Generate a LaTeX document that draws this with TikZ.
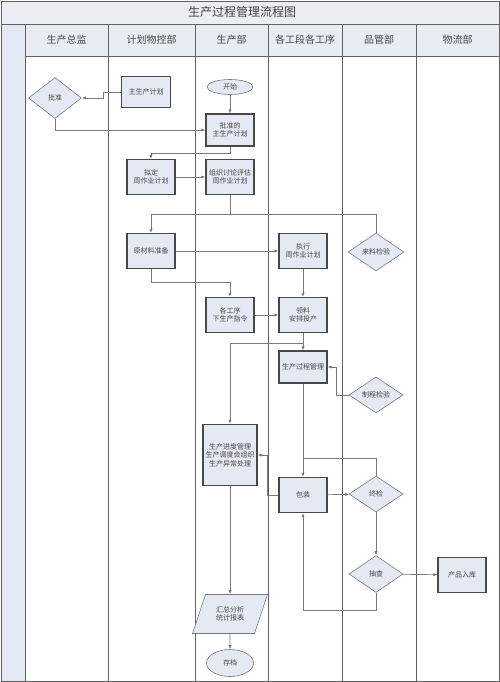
\documentclass[tikz,border=0pt]{standalone}
\usepackage{fontspec}
\newfontfamily\cjk{Noto Sans CJK SC}
\usetikzlibrary{shapes.geometric,arrows.meta}
\definecolor{titlefill}{RGB}{236,238,244}
\definecolor{headfill}{RGB}{232,236,243}
\definecolor{lanefill}{RGB}{226,233,245}
\definecolor{boxfill}{RGB}{229,233,243}
\definecolor{boxline}{RGB}{72,72,72}
\definecolor{flowgray}{RGB}{118,122,126}
\definecolor{laneline}{RGB}{96,96,96}
\tikzset{
  boxtext/.style={font=\cjk\fontsize{7}{8.6}\selectfont,text=black!72,align=center},
  procbox/.style={boxtext,rectangle,draw=boxline,line width=1.3pt,fill=boxfill,
    minimum width=48pt,minimum height=35pt,inner sep=1pt},
  checkbox/.style={boxtext,diamond,draw=flowgray,line width=0.6pt,fill=boxfill,
    minimum width=54pt,minimum height=36pt,inner sep=0pt},
  termbox/.style={boxtext,ellipse,draw=flowgray,line width=0.6pt,fill=boxfill,
    minimum width=46pt,minimum height=15pt,inner sep=0pt},
  databox/.style={boxtext,trapezium,trapezium left angle=64,trapezium right angle=116,
    trapezium stretches=true,draw=flowgray,line width=0.6pt,fill=boxfill,
    minimum width=75pt,minimum height=39pt,inner sep=0pt},
  flow/.style={draw=flowgray,line width=0.7pt,-{Latex[length=4pt,width=3.2pt,fill=black!70]}},
  plain/.style={draw=flowgray,line width=0.7pt},
}
\newcommand{\lanehead}[3]{%
  \node[font=\cjk\fontsize{10}{12}\selectfont,text=black!72] (#1) at (#2,40) {#3};
}

\begin{document}
\begin{tikzpicture}[x=1pt,y=-1pt]
  \useasboundingbox (0,0) rectangle (500,682);
  % lanes
  \fill[titlefill] (1,1) rectangle (499,24);
  \fill[lanefill] (1,24) rectangle (25,681);
  \fill[headfill] (25,24) rectangle (499,56);
  \draw[laneline,line width=0.9pt] (1,1) rectangle (499,681);
  \draw[laneline,line width=0.9pt] (1,24) -- (499,24);
  \draw[laneline,line width=0.6pt] (25,56) -- (499,56);
  \foreach \x in {25,108,195,268,342,416}
    \draw[laneline,line width=0.9pt] (\x,24) -- (\x,681);
  \node[font=\cjk\fontsize{12}{14}\selectfont,text=black!75] (title) at (242,12) {生产过程管理流程图};
  \lanehead{zongjian}{66.5}{生产总监}
  \lanehead{jihua}{151.5}{计划物控部}
  \lanehead{shengchan}{231.5}{生产部}
  \lanehead{gongxu}{305}{各工段各工序}
  \lanehead{pinguan}{379}{品管部}
  \lanehead{wuliu}{457.5}{物流部}

  \node[checkbox,minimum width=53pt,minimum height=41pt] (pizhun) at (55,98) {批准};
  \node[procbox,minimum width=49pt,minimum height=31pt] (zhujh) at (146,92) {主生产计划};
  \node[termbox] (kaishi) at (230,87) {开始};
  \node[procbox,minimum height=32pt] (pzjh) at (230,130) {批准的\\主生产计划};
  \node[procbox] (niding) at (151,177) {拟定\\周作业计划};
  \node[procbox] (zuzhi) at (230,177) {组织讨论评估\\周作业计划};
  \node[procbox] (yuancl) at (151,251) {原材料准备};
  \node[procbox] (zhixing) at (303,251) {执行\\周作业计划};
  \node[checkbox,minimum width=56pt,minimum height=38pt] (laiyao) at (376,252) {来料检验};
  \node[procbox] (gegx) at (230,315) {各工序\\下生产指令};
  \node[procbox] (lingliao) at (303,315) {领料\\安排投产};
  \node[procbox,minimum height=32pt] (gcgl) at (303,367) {生产过程管理};
  \node[checkbox] (zhicheng) at (376,395) {制程检验};
  \node[procbox,minimum width=54pt,minimum height=61pt] (jindu) at (230,455) {生产进度管理\\生产调度会组织\\生产异常处理};
  \node[procbox] (baozhuang) at (303,495) {包装};
  \node[checkbox] (zhongjian) at (376,494) {终检};
  \node[checkbox,minimum height=37pt] (choucha) at (376,574) {抽查};
  \node[procbox] (ruku) at (462,575) {产品入库};
  \node[databox] (huizong) at (230,614) {汇总分析\\统计报表};
  \node[termbox,minimum width=47pt,minimum height=27pt] (cundang) at (230,663) {存档};

  \draw[flow] (zhujh.west) -- ++(-18,0) |- (pizhun.east);
  \draw[flow] (kaishi) -- (pzjh);
  \draw[flow] (pizhun.south) |- (pzjh.west);
  \draw[flow] (pzjh.south) -- ++(0,7) -| (niding.north);
  \draw[flow] (niding) -- (zuzhi);
  \draw[flow] (zuzhi.south) -- ++(0,19) coordinate (split1) -| (yuancl.north);
  \draw[plain] (split1) -| (laiyao.north);
  \draw[flow] (yuancl) -- (zhixing);
  \draw[flow] (yuancl.south) -- ++(0,13) -| (gegx.north);
  \draw[flow] (zhixing) -- (lingliao);
  \draw[flow] (gegx) -- (lingliao);
  \draw[flow] (lingliao) -- (gcgl);
  \path (lingliao.south) -- ++(0,10) coordinate (split2);
  \draw[flow] (split2) -| (jindu.north);
  \draw[flow] (zhicheng.west) -- ++(-12,0) |- (gcgl.east);
  \draw[flow] (gcgl) -- (baozhuang);
  \draw[flow] (baozhuang.west) -- ++(-11,0) |- (jindu.east);
  \draw[flow] (baozhuang) -- (zhongjian);
  \coordinate (back1) at (303,458);
  \draw[plain] (zhongjian.north) |- (back1);
  \draw[flow] (zhongjian) -- (choucha);
  \draw[flow] (choucha) -- (ruku);
  \draw[flow] (choucha.south) -- ++(0,18) -| (baozhuang.south);
  \draw[flow] (jindu) -- (huizong);
  \draw[flow] (huizong) -- (cundang);
\end{tikzpicture}
\end{document}
